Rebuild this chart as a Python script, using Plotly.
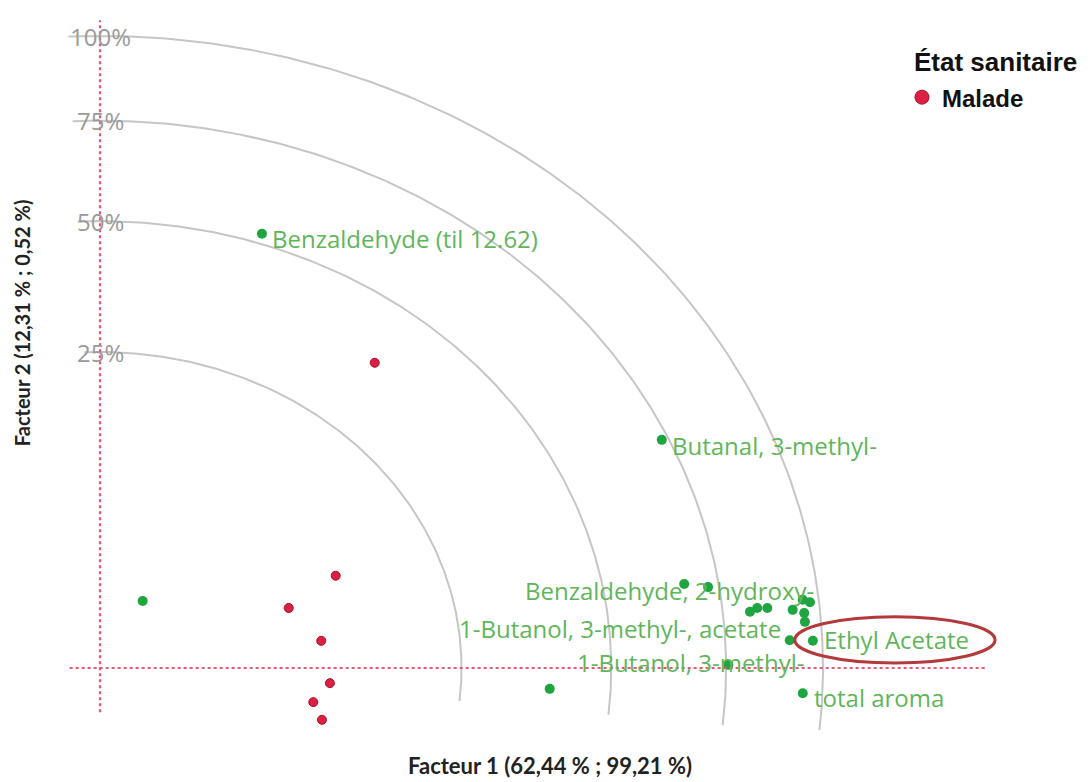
import numpy as np
import plotly.graph_objects as go

# ---------------- data ----------------
# Variables (green) : Facteur 1 / Facteur 2 coordinates (fraction of the 100% circle)
var_names = ["", "Benzaldehyde (til 12.62)", "Butanal, 3-methyl-", "", "", "", "", "",
             "", "", "Benzaldehyde, 2-hydroxy-", "", "", "1-Butanol, 3-methyl-, acetate",
             "Ethyl Acetate", "1-Butanol, 3-methyl-", "total aroma", ""]
var_f1 = [0.059, 0.224, 0.777, 0.808, 0.841, 0.899, 0.909, 0.923, 0.958, 0.972,
          0.982, 0.974, 0.975, 0.954, 0.986, 0.869, 0.972, 0.622]
var_f2 = [0.106, 0.687, 0.361, 0.133, 0.128, 0.089, 0.095, 0.095, 0.092, 0.108,
          0.104, 0.087, 0.073, 0.044, 0.043, 0.005, -0.040, -0.033]

# Observations (red) : État sanitaire = Malade
obs_f1 = [0.380, 0.326, 0.261, 0.306, 0.318, 0.295, 0.307]
obs_f2 = [0.483, 0.146, 0.095, 0.043, -0.024, -0.054, -0.082]

# Circles of explained inertia
circle_levels = [0.25, 0.50, 0.75, 1.00]
circle_labels = ["25%", "50%", "75%", "100%"]

legend_title = "État sanitaire"
group_name = "Malade"
x_title = "Facteur 1 (62,44 % ; 99,21 %)"
y_title = "Facteur 2 (12,31 % ; 0,52 %)"

# ---------------- styles ----------------
GREEN = "#1ea53f"
GREEN_TXT = "#5fb65a"
RED = "#dc1f42"
RED_EDGE = "#a3102a"
ARC = "#c6c6c6"
ZERO = "#ef5470"
LABEL_FONT = "Open Sans"
LABEL_SIZE = 24

# label placement (pixel offsets from the point, anchor)
label_style = {
    "Benzaldehyde (til 12.62)": dict(xanchor="left", xshift=8, yshift=-5),
    "Butanal, 3-methyl-": dict(xanchor="left", xshift=8, yshift=-6),
    "Benzaldehyde, 2-hydroxy-": dict(xanchor="right", xshift=6, yshift=12),
    "1-Butanol, 3-methyl-, acetate": dict(xanchor="right", xshift=-7, yshift=12),
    "Ethyl Acetate": dict(xanchor="left", xshift=9, yshift=1),
    "1-Butanol, 3-methyl-": dict(xanchor="right", xshift=78, yshift=2),
    "total aroma": dict(xanchor="left", xshift=9, yshift=-4),
}

fig = go.Figure()

# arcs
for lev in circle_levels:
    r = np.sqrt(lev)
    th = np.radians(np.linspace(-6.0, 92.5, 200))
    fig.add_trace(go.Scatter(x=r * np.cos(th), y=r * np.sin(th), mode="lines",
                             line=dict(color=ARC, width=2), hoverinfo="skip",
                             showlegend=False))

# zero lines (dotted)
fig.add_shape(type="line", x0=-0.042, x1=1.224, y0=0, y1=0, xref="x", yref="y",
              line=dict(color=ZERO, width=2.2, dash="dot"))
fig.add_shape(type="line", x0=0, x1=0, y0=-0.07, y1=1.025, xref="x", yref="y",
              line=dict(color=ZERO, width=2.2, dash="dot"))

# variables
fig.add_trace(go.Scatter(x=var_f1, y=var_f2, mode="markers", text=var_names,
                         marker=dict(color=GREEN, size=10), showlegend=False))

# observations
fig.add_trace(go.Scatter(x=obs_f1, y=obs_f2, mode="markers", name=group_name,
                         marker=dict(color=RED, size=9, line=dict(color=RED_EDGE, width=1)),
                         showlegend=False))
# legend entry
fig.add_trace(go.Scatter(x=[None], y=[None], mode="markers", name=group_name,
                         marker=dict(color=RED, size=14, line=dict(color=RED_EDGE, width=1)),
                         showlegend=True))

# circle labels
for lev, lab in zip(circle_levels, circle_labels):
    fig.add_annotation(x=0, y=np.sqrt(lev), text=lab, showarrow=False, xanchor="center",
                       yanchor="middle", font=dict(family=LABEL_FONT, size=24, color="#9a9a9a"))

# variable labels
for n, xv, yv in zip(var_names, var_f1, var_f2):
    if n:
        st = label_style[n]
        fig.add_annotation(x=xv, y=yv, text=n, showarrow=False, yanchor="middle",
                           font=dict(family=LABEL_FONT, size=LABEL_SIZE, color=GREEN_TXT), **st)

# highlighted ellipse around Ethyl Acetate
fig.add_shape(type="circle", xref="x", yref="y", x0=0.961, x1=1.238, y0=0.008, y1=0.081,
              line=dict(color="#b33a3c", width=3))

# axis titles
fig.add_annotation(xref="paper", yref="paper", x=0.5213, y=-0.0503, xanchor="center",
                   yanchor="middle", text="<b>" + x_title + "</b>",
                   showarrow=False, font=dict(family="Lato", size=22, color="#222"))
fig.add_annotation(xref="paper", yref="paper", x=-0.0404, y=0.569, xanchor="center",
                   yanchor="middle", text="<b>" + y_title + "</b>",
                   showarrow=False, textangle=-90, font=dict(family="Lato", size=20, color="#222"))

# legend title
fig.add_annotation(xref="paper", yref="paper", x=0.9064, y=0.934, xanchor="left", yanchor="middle",
                   text="<b>" + legend_title + "</b>", showarrow=False,
                   font=dict(family="Liberation Sans", size=26, color="#111"))

fig.update_layout(
    width=1083, height=774,
    margin=dict(l=52, r=91, t=7, b=52),
    plot_bgcolor="white", paper_bgcolor="white",
    xaxis=dict(range=[-0.05533, 1.24481], visible=False),
    yaxis=dict(range=[-0.0981, 1.03323], visible=False),
    legend=dict(x=0.8957, y=0.916, xanchor="left", yanchor="top",
                font=dict(family="Liberation Sans", size=24, color="#111", weight="bold"),
                bgcolor="rgba(0,0,0,0)"),
)

fig.write_html("out.html")
